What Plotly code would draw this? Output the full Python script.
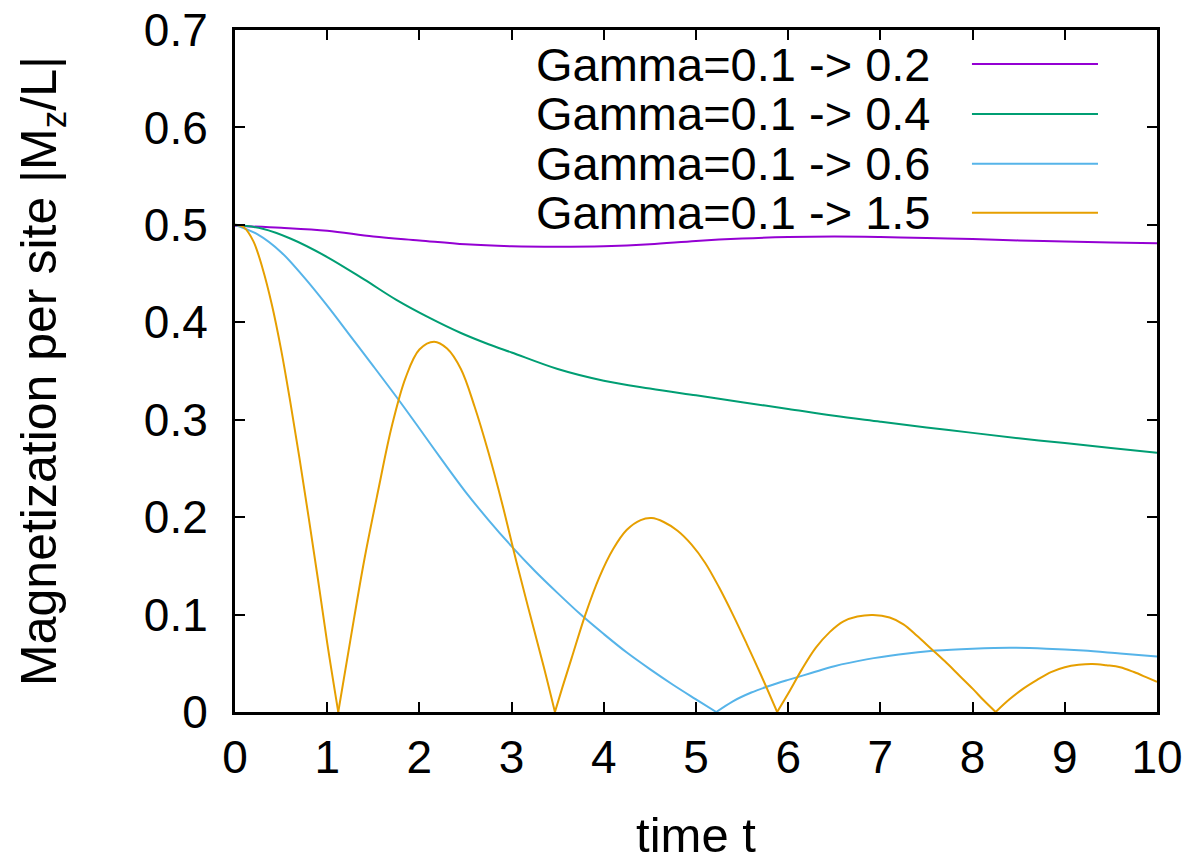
import plotly.graph_objects as go

# ---- data ----
t_g02 = [0, 0.5, 1.0, 1.5, 2.0, 2.5, 3.0, 3.5, 4.0, 4.5, 5.0, 5.5, 6.0, 6.5, 7.0, 7.5, 8.0, 8.5, 9.0, 9.5, 10.0]
m_g02 = [0.499, 0.497, 0.494, 0.488, 0.484, 0.480, 0.478, 0.4775, 0.478, 0.480, 0.4835, 0.486, 0.4875, 0.488,
         0.4875, 0.4865, 0.4855, 0.484, 0.483, 0.482, 0.481]

t_g04 = [0, 0.3, 0.6, 1.0, 1.4, 1.75, 2.1, 2.45, 2.75, 3.0, 3.5, 4.0, 4.5, 5.0, 5.5, 6.0, 6.5, 7.0, 7.5,
         8.0, 8.5, 9.0, 9.5, 10.0]
m_g04 = [0.500, 0.496, 0.486, 0.467, 0.444, 0.423, 0.405, 0.389, 0.3775, 0.369, 0.352, 0.340, 0.332, 0.325,
         0.318, 0.311, 0.304, 0.298, 0.292, 0.2865, 0.281, 0.276, 0.271, 0.266]

t_g06 = [0, 0.25, 0.5, 0.75, 1.0, 1.25, 1.5, 1.77, 2.0, 2.25, 2.5, 2.75, 3.0, 3.25, 3.5, 3.75, 4.0, 4.25,
         4.5, 4.75, 5.0, 5.22, 5.4, 5.6, 5.8, 6.0, 6.25, 6.5, 6.85, 7.2, 7.6, 8.0, 8.4, 8.8, 9.2, 9.6, 10.0]
m_g06 = [0.500, 0.490, 0.472, 0.446, 0.417, 0.386, 0.355, 0.321, 0.291, 0.258, 0.226, 0.197, 0.170, 0.145,
         0.122, 0.100, 0.080, 0.061, 0.044, 0.028, 0.013, 0.0, 0.011, 0.020, 0.027, 0.033, 0.040, 0.047,
         0.054, 0.059, 0.063, 0.065, 0.066, 0.065, 0.063, 0.060, 0.057]

t_g15 = [0, 0.1, 0.2, 0.3, 0.4, 0.5, 0.6, 0.7, 0.8, 0.9, 1.0, 1.12,
         1.25, 1.4, 1.55, 1.7, 1.85, 2.0, 2.16, 2.3, 2.45, 2.6, 2.75, 2.9, 3.05, 3.2, 3.35, 3.47,
         3.55, 3.65, 3.8, 3.95, 4.1, 4.25, 4.4, 4.52, 4.65, 4.8, 4.95, 5.1, 5.25, 5.4, 5.55, 5.7, 5.88,
         6.0, 6.15, 6.3, 6.45, 6.6, 6.75, 6.92, 7.1, 7.25, 7.4, 7.55, 7.7, 7.85, 8.0, 8.12, 8.25,
         8.4, 8.55, 8.7, 8.85, 9.0, 9.15, 9.3, 9.45, 9.6, 9.75, 9.9, 10.0]
m_g15 = [0.500, 0.497, 0.483, 0.455, 0.418, 0.372, 0.318, 0.260, 0.199, 0.136, 0.071, 0.0,
         0.073, 0.155, 0.226, 0.293, 0.343, 0.372, 0.380, 0.373, 0.352, 0.313, 0.266, 0.213, 0.155, 0.100,
         0.046, 0.0,
         0.025, 0.055, 0.100, 0.138, 0.167, 0.187, 0.197, 0.199, 0.195, 0.186, 0.172, 0.153, 0.128, 0.100,
         0.070, 0.039, 0.0,
         0.019, 0.044, 0.066, 0.082, 0.093, 0.098, 0.0996, 0.097, 0.090, 0.078, 0.065, 0.052, 0.038, 0.024,
         0.012, 0.0,
         0.013, 0.024, 0.033, 0.041, 0.046, 0.0485, 0.0493, 0.048, 0.046, 0.041, 0.035, 0.031]

series_names = ["Gamma=0.1 -> 0.2", "Gamma=0.1 -> 0.4", "Gamma=0.1 -> 0.6", "Gamma=0.1 -> 1.5"]
series_colors = ["#9400d3", "#009e73", "#56b4e9", "#e69f00"]

x_ticks = list(range(0, 11))
y_ticks = [0, 0.1, 0.2, 0.3, 0.4, 0.5, 0.6, 0.7]
y_tick_labels = ["0", "0.1", "0.2", "0.3", "0.4", "0.5", "0.6", "0.7"]

FONT = "Liberation Sans, Arial, sans-serif"


def split_at_zeros(tx, my):
    """Break a |M| curve into separate smooth pieces at its cusps (values == 0)."""
    xs, ys = [], []
    n = len(tx)
    for i, (a, b) in enumerate(zip(tx, my)):
        xs.append(a)
        ys.append(b)
        if b == 0 and 0 < i < n - 1:
            xs += [None, a]
            ys += [None, b]
    return xs, ys


fig = go.Figure()
data = [(t_g02, m_g02), (t_g04, m_g04), (t_g06, m_g06), (t_g15, m_g15)]
for (tx, my), name, col in zip(data, series_names, series_colors):
    xs, ys = split_at_zeros(tx, my)
    fig.add_trace(go.Scatter(x=xs, y=ys, mode="lines", name=name, connectgaps=False,
                             line=dict(color=col, width=2, shape="spline", smoothing=1.0),
                             showlegend=False))

# gnuplot-style key: text on the left, line sample on the right
key_y = [0.950, 0.877, 0.804, 0.732]
for name, col, ky in zip(series_names, series_colors, key_y):
    fig.add_annotation(xref="paper", yref="paper", x=0.756, y=ky, text=name,
                       showarrow=False, xanchor="right", yanchor="middle",
                       font=dict(family=FONT, size=47, color="black"))
    fig.add_shape(type="line", xref="paper", yref="paper", x0=0.7993, x1=0.936, y0=ky, y1=ky,
                  line=dict(color=col, width=2))

axis_common = dict(showline=True, linecolor="black", linewidth=3, mirror="ticks",
                   ticks="inside", ticklen=10, tickwidth=2, tickcolor="black",
                   showgrid=False, zeroline=False, automargin=False,
                   ticklabeloverflow="allow",
                   tickfont=dict(family=FONT, size=46, color="black"))

fig.update_xaxes(range=[0, 10], tickvals=x_ticks, ticktext=[str(v) for v in x_ticks],
                 title=dict(text="time t", font=dict(family=FONT, size=49, color="black"), standoff=36),
                 ticklabelstandoff=3, **axis_common)
fig.update_yaxes(range=[0, 0.7], tickvals=y_ticks, ticktext=y_tick_labels,
                 title=dict(text="Magnetization per site |M<sub>z</sub>/L|",
                            font=dict(family=FONT, size=50, color="black"), standoff=72),
                 ticklabelstandoff=15, **axis_common)

fig.update_layout(width=1197, height=862, plot_bgcolor="white", paper_bgcolor="white",
                  margin=dict(l=235, r=40, t=30, b=150))

fig.write_html("out.html", config={"displayModeBar": False},
               post_script="document.body.style.margin='0px';")
